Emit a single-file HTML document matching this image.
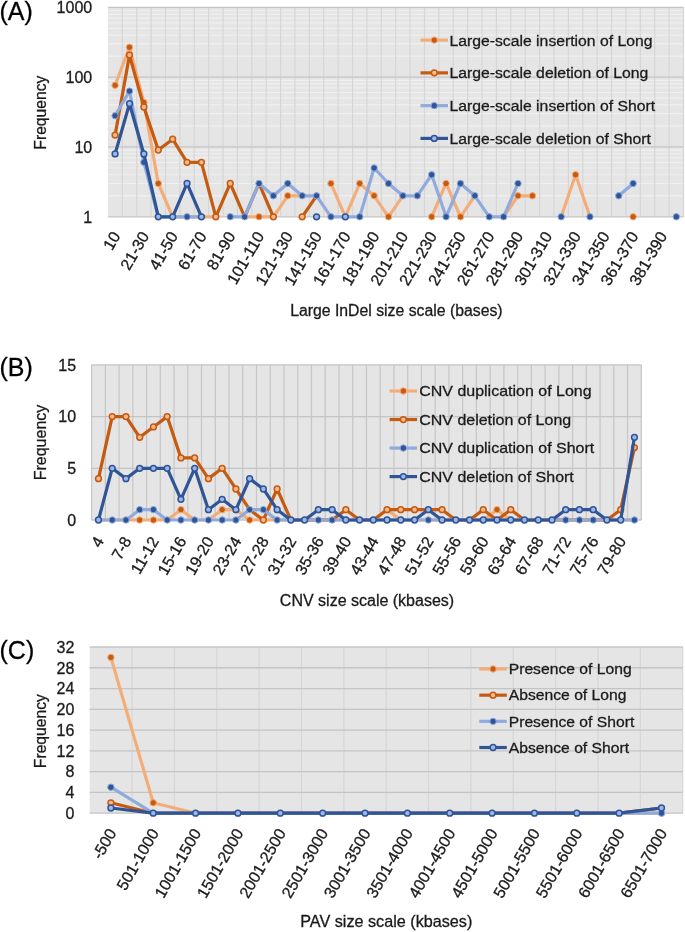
<!DOCTYPE html>
<html><head><meta charset="utf-8"><title>Size distribution charts</title>
<style>html,body{margin:0;padding:0;background:#fff;}body{width:685px;height:932px;overflow:hidden;font-family:"Liberation Sans", sans-serif;}svg{display:block;filter:blur(0.45px);}svg text{stroke:#1a1a1a;stroke-width:0.3px;paint-order:stroke;}</style>
</head><body><svg width="685" height="932" viewBox="0 0 685 932" font-family='"Liberation Sans", sans-serif'><rect x="107.9" y="7.3" width="575.6" height="209.5" fill="#e5e5e5"/><line x1="107.9" y1="195.78" x2="683.5" y2="195.78" stroke="#f0f0f0" stroke-width="1.2"/><line x1="107.9" y1="183.48" x2="683.5" y2="183.48" stroke="#f0f0f0" stroke-width="1.2"/><line x1="107.9" y1="174.76" x2="683.5" y2="174.76" stroke="#f0f0f0" stroke-width="1.2"/><line x1="107.9" y1="167.99" x2="683.5" y2="167.99" stroke="#f0f0f0" stroke-width="1.2"/><line x1="107.9" y1="162.46" x2="683.5" y2="162.46" stroke="#f0f0f0" stroke-width="1.2"/><line x1="107.9" y1="157.78" x2="683.5" y2="157.78" stroke="#f0f0f0" stroke-width="1.2"/><line x1="107.9" y1="153.73" x2="683.5" y2="153.73" stroke="#f0f0f0" stroke-width="1.2"/><line x1="107.9" y1="150.16" x2="683.5" y2="150.16" stroke="#f0f0f0" stroke-width="1.2"/><line x1="107.9" y1="125.94" x2="683.5" y2="125.94" stroke="#f0f0f0" stroke-width="1.2"/><line x1="107.9" y1="113.65" x2="683.5" y2="113.65" stroke="#f0f0f0" stroke-width="1.2"/><line x1="107.9" y1="104.92" x2="683.5" y2="104.92" stroke="#f0f0f0" stroke-width="1.2"/><line x1="107.9" y1="98.16" x2="683.5" y2="98.16" stroke="#f0f0f0" stroke-width="1.2"/><line x1="107.9" y1="92.63" x2="683.5" y2="92.63" stroke="#f0f0f0" stroke-width="1.2"/><line x1="107.9" y1="87.95" x2="683.5" y2="87.95" stroke="#f0f0f0" stroke-width="1.2"/><line x1="107.9" y1="83.9" x2="683.5" y2="83.9" stroke="#f0f0f0" stroke-width="1.2"/><line x1="107.9" y1="80.33" x2="683.5" y2="80.33" stroke="#f0f0f0" stroke-width="1.2"/><line x1="107.9" y1="56.11" x2="683.5" y2="56.11" stroke="#f0f0f0" stroke-width="1.2"/><line x1="107.9" y1="43.81" x2="683.5" y2="43.81" stroke="#f0f0f0" stroke-width="1.2"/><line x1="107.9" y1="35.09" x2="683.5" y2="35.09" stroke="#f0f0f0" stroke-width="1.2"/><line x1="107.9" y1="28.32" x2="683.5" y2="28.32" stroke="#f0f0f0" stroke-width="1.2"/><line x1="107.9" y1="22.79" x2="683.5" y2="22.79" stroke="#f0f0f0" stroke-width="1.2"/><line x1="107.9" y1="18.12" x2="683.5" y2="18.12" stroke="#f0f0f0" stroke-width="1.2"/><line x1="107.9" y1="14.07" x2="683.5" y2="14.07" stroke="#f0f0f0" stroke-width="1.2"/><line x1="107.9" y1="10.5" x2="683.5" y2="10.5" stroke="#f0f0f0" stroke-width="1.2"/><line x1="122.29" y1="7.3" x2="122.29" y2="216.8" stroke="#d6d6d6" stroke-width="1.2"/><line x1="136.68" y1="7.3" x2="136.68" y2="216.8" stroke="#d6d6d6" stroke-width="1.2"/><line x1="151.07" y1="7.3" x2="151.07" y2="216.8" stroke="#d6d6d6" stroke-width="1.2"/><line x1="165.46" y1="7.3" x2="165.46" y2="216.8" stroke="#d6d6d6" stroke-width="1.2"/><line x1="179.85" y1="7.3" x2="179.85" y2="216.8" stroke="#d6d6d6" stroke-width="1.2"/><line x1="194.24" y1="7.3" x2="194.24" y2="216.8" stroke="#d6d6d6" stroke-width="1.2"/><line x1="208.63" y1="7.3" x2="208.63" y2="216.8" stroke="#d6d6d6" stroke-width="1.2"/><line x1="223.02" y1="7.3" x2="223.02" y2="216.8" stroke="#d6d6d6" stroke-width="1.2"/><line x1="237.41" y1="7.3" x2="237.41" y2="216.8" stroke="#d6d6d6" stroke-width="1.2"/><line x1="251.8" y1="7.3" x2="251.8" y2="216.8" stroke="#d6d6d6" stroke-width="1.2"/><line x1="266.19" y1="7.3" x2="266.19" y2="216.8" stroke="#d6d6d6" stroke-width="1.2"/><line x1="280.58" y1="7.3" x2="280.58" y2="216.8" stroke="#d6d6d6" stroke-width="1.2"/><line x1="294.97" y1="7.3" x2="294.97" y2="216.8" stroke="#d6d6d6" stroke-width="1.2"/><line x1="309.36" y1="7.3" x2="309.36" y2="216.8" stroke="#d6d6d6" stroke-width="1.2"/><line x1="323.75" y1="7.3" x2="323.75" y2="216.8" stroke="#d6d6d6" stroke-width="1.2"/><line x1="338.14" y1="7.3" x2="338.14" y2="216.8" stroke="#d6d6d6" stroke-width="1.2"/><line x1="352.53" y1="7.3" x2="352.53" y2="216.8" stroke="#d6d6d6" stroke-width="1.2"/><line x1="366.92" y1="7.3" x2="366.92" y2="216.8" stroke="#d6d6d6" stroke-width="1.2"/><line x1="381.31" y1="7.3" x2="381.31" y2="216.8" stroke="#d6d6d6" stroke-width="1.2"/><line x1="395.7" y1="7.3" x2="395.7" y2="216.8" stroke="#d6d6d6" stroke-width="1.2"/><line x1="410.09" y1="7.3" x2="410.09" y2="216.8" stroke="#d6d6d6" stroke-width="1.2"/><line x1="424.48" y1="7.3" x2="424.48" y2="216.8" stroke="#d6d6d6" stroke-width="1.2"/><line x1="438.87" y1="7.3" x2="438.87" y2="216.8" stroke="#d6d6d6" stroke-width="1.2"/><line x1="453.26" y1="7.3" x2="453.26" y2="216.8" stroke="#d6d6d6" stroke-width="1.2"/><line x1="467.65" y1="7.3" x2="467.65" y2="216.8" stroke="#d6d6d6" stroke-width="1.2"/><line x1="482.04" y1="7.3" x2="482.04" y2="216.8" stroke="#d6d6d6" stroke-width="1.2"/><line x1="496.43" y1="7.3" x2="496.43" y2="216.8" stroke="#d6d6d6" stroke-width="1.2"/><line x1="510.82" y1="7.3" x2="510.82" y2="216.8" stroke="#d6d6d6" stroke-width="1.2"/><line x1="525.21" y1="7.3" x2="525.21" y2="216.8" stroke="#d6d6d6" stroke-width="1.2"/><line x1="539.6" y1="7.3" x2="539.6" y2="216.8" stroke="#d6d6d6" stroke-width="1.2"/><line x1="553.99" y1="7.3" x2="553.99" y2="216.8" stroke="#d6d6d6" stroke-width="1.2"/><line x1="568.38" y1="7.3" x2="568.38" y2="216.8" stroke="#d6d6d6" stroke-width="1.2"/><line x1="582.77" y1="7.3" x2="582.77" y2="216.8" stroke="#d6d6d6" stroke-width="1.2"/><line x1="597.16" y1="7.3" x2="597.16" y2="216.8" stroke="#d6d6d6" stroke-width="1.2"/><line x1="611.55" y1="7.3" x2="611.55" y2="216.8" stroke="#d6d6d6" stroke-width="1.2"/><line x1="625.94" y1="7.3" x2="625.94" y2="216.8" stroke="#d6d6d6" stroke-width="1.2"/><line x1="640.33" y1="7.3" x2="640.33" y2="216.8" stroke="#d6d6d6" stroke-width="1.2"/><line x1="654.72" y1="7.3" x2="654.72" y2="216.8" stroke="#d6d6d6" stroke-width="1.2"/><line x1="669.11" y1="7.3" x2="669.11" y2="216.8" stroke="#d6d6d6" stroke-width="1.2"/><line x1="683.5" y1="7.3" x2="683.5" y2="216.8" stroke="#d6d6d6" stroke-width="1.2"/><line x1="107.9" y1="216.8" x2="683.5" y2="216.8" stroke="#c4c4c4" stroke-width="1.3"/><line x1="107.9" y1="146.97" x2="683.5" y2="146.97" stroke="#c4c4c4" stroke-width="1.3"/><line x1="107.9" y1="77.13" x2="683.5" y2="77.13" stroke="#c4c4c4" stroke-width="1.3"/><line x1="107.9" y1="7.3" x2="683.5" y2="7.3" stroke="#c4c4c4" stroke-width="1.3"/><text x="92.2" y="216.8" text-anchor="end" dy="0.36em" font-size="16" fill="#1a1a1a">1</text><text x="92.2" y="146.97" text-anchor="end" dy="0.36em" font-size="16" fill="#1a1a1a">10</text><text x="92.2" y="77.13" text-anchor="end" dy="0.36em" font-size="16" fill="#1a1a1a">100</text><text x="92.2" y="7.3" text-anchor="end" dy="0.36em" font-size="16" fill="#1a1a1a">1000</text><text transform="translate(40,112.6) rotate(-90)" text-anchor="middle" dy="0.36em" font-size="15.7" fill="#1a1a1a">Frequency</text><text x="-0.5" y="19.6" font-size="25" fill="#000">(A)</text><line x1="420.5" y1="40.1" x2="448" y2="40.1" stroke="#f4ad78" stroke-width="3.2"/><circle cx="434.25" cy="40.1" r="3.2" fill="#c55a11" stroke="#f4ad78" stroke-width="1.0"/><text transform="translate(449.5,45.7) scale(1,0.92)" font-size="15.75" fill="#1a1a1a">Large-scale insertion of Long</text><line x1="420.5" y1="72.87" x2="448" y2="72.87" stroke="#c55a11" stroke-width="3.2"/><circle cx="434.25" cy="72.87" r="2.9" fill="#f7b98c" stroke="#c55a11" stroke-width="1.5"/><text transform="translate(449.5,78.47) scale(1,0.92)" font-size="15.75" fill="#1a1a1a">Large-scale deletion of Long</text><line x1="420.5" y1="105.64" x2="448" y2="105.64" stroke="#8faadc" stroke-width="3.2"/><circle cx="434.25" cy="105.64" r="3.2" fill="#2f5597" stroke="#8faadc" stroke-width="1.0"/><text transform="translate(449.5,111.24) scale(1,0.92)" font-size="15.75" fill="#1a1a1a">Large-scale insertion of Short</text><line x1="420.5" y1="138.41" x2="448" y2="138.41" stroke="#2f5597" stroke-width="3.2"/><circle cx="434.25" cy="138.41" r="2.9" fill="#9db7e6" stroke="#2f5597" stroke-width="1.5"/><text transform="translate(449.5,144.01) scale(1,0.92)" font-size="15.75" fill="#1a1a1a">Large-scale deletion of Short</text><polyline points="115.09,85.3 129.49,47.3 143.88,102.5 158.27,183.48 172.66,216.8 187.05,216.8 201.44,216.8 215.83,216.8" fill="none" stroke="#f4ad78" stroke-width="3.2" stroke-linejoin="round" stroke-linecap="round"/><polyline points="244.61,216.8 259,216.8 273.38,216.8 287.77,195.78 302.17,195.78" fill="none" stroke="#f4ad78" stroke-width="3.2" stroke-linejoin="round" stroke-linecap="round"/><polyline points="330.95,183.48 345.34,216.8 359.73,183.48 374.12,195.78 388.5,216.8 402.89,195.78" fill="none" stroke="#f4ad78" stroke-width="3.2" stroke-linejoin="round" stroke-linecap="round"/><polyline points="431.68,216.8 446.07,183.48 460.46,216.8 474.85,195.78" fill="none" stroke="#f4ad78" stroke-width="3.2" stroke-linejoin="round" stroke-linecap="round"/><polyline points="503.62,216.8 518.01,195.78 532.4,195.78" fill="none" stroke="#f4ad78" stroke-width="3.2" stroke-linejoin="round" stroke-linecap="round"/><polyline points="561.19,216.8 575.58,174.76 589.97,216.8" fill="none" stroke="#f4ad78" stroke-width="3.2" stroke-linejoin="round" stroke-linecap="round"/><circle cx="115.09" cy="85.3" r="3.2" fill="#c55a11" stroke="#f4ad78" stroke-width="1.0"/><circle cx="129.49" cy="47.3" r="3.2" fill="#c55a11" stroke="#f4ad78" stroke-width="1.0"/><circle cx="143.88" cy="102.5" r="3.2" fill="#c55a11" stroke="#f4ad78" stroke-width="1.0"/><circle cx="158.27" cy="183.48" r="3.2" fill="#c55a11" stroke="#f4ad78" stroke-width="1.0"/><circle cx="259" cy="216.8" r="3.2" fill="#c55a11" stroke="#f4ad78" stroke-width="1.0"/><circle cx="287.77" cy="195.78" r="3.2" fill="#c55a11" stroke="#f4ad78" stroke-width="1.0"/><circle cx="330.95" cy="183.48" r="3.2" fill="#c55a11" stroke="#f4ad78" stroke-width="1.0"/><circle cx="359.73" cy="183.48" r="3.2" fill="#c55a11" stroke="#f4ad78" stroke-width="1.0"/><circle cx="374.12" cy="195.78" r="3.2" fill="#c55a11" stroke="#f4ad78" stroke-width="1.0"/><circle cx="388.5" cy="216.8" r="3.2" fill="#c55a11" stroke="#f4ad78" stroke-width="1.0"/><circle cx="431.68" cy="216.8" r="3.2" fill="#c55a11" stroke="#f4ad78" stroke-width="1.0"/><circle cx="446.07" cy="183.48" r="3.2" fill="#c55a11" stroke="#f4ad78" stroke-width="1.0"/><circle cx="460.46" cy="216.8" r="3.2" fill="#c55a11" stroke="#f4ad78" stroke-width="1.0"/><circle cx="518.01" cy="195.78" r="3.2" fill="#c55a11" stroke="#f4ad78" stroke-width="1.0"/><circle cx="532.4" cy="195.78" r="3.2" fill="#c55a11" stroke="#f4ad78" stroke-width="1.0"/><circle cx="575.58" cy="174.76" r="3.2" fill="#c55a11" stroke="#f4ad78" stroke-width="1.0"/><circle cx="633.13" cy="216.8" r="3.2" fill="#c55a11" stroke="#f4ad78" stroke-width="1.0"/><polyline points="115.09,135.1 129.49,55.1 143.88,107 158.27,150 172.66,139.2 187.05,162.3 201.44,162.3 215.83,216.8 230.22,183.48 244.61,216.8 259,183.48 273.38,216.8" fill="none" stroke="#c55a11" stroke-width="3.2" stroke-linejoin="round" stroke-linecap="round"/><polyline points="302.17,216.8 316.56,195.78" fill="none" stroke="#c55a11" stroke-width="3.2" stroke-linejoin="round" stroke-linecap="round"/><circle cx="115.09" cy="135.1" r="2.9" fill="#f7b98c" stroke="#c55a11" stroke-width="1.5"/><circle cx="129.49" cy="55.1" r="2.9" fill="#f7b98c" stroke="#c55a11" stroke-width="1.5"/><circle cx="143.88" cy="107" r="2.9" fill="#f7b98c" stroke="#c55a11" stroke-width="1.5"/><circle cx="158.27" cy="150" r="2.9" fill="#f7b98c" stroke="#c55a11" stroke-width="1.5"/><circle cx="172.66" cy="139.2" r="2.9" fill="#f7b98c" stroke="#c55a11" stroke-width="1.5"/><circle cx="187.05" cy="162.3" r="2.9" fill="#f7b98c" stroke="#c55a11" stroke-width="1.5"/><circle cx="201.44" cy="162.3" r="2.9" fill="#f7b98c" stroke="#c55a11" stroke-width="1.5"/><circle cx="215.83" cy="216.8" r="2.9" fill="#f7b98c" stroke="#c55a11" stroke-width="1.5"/><circle cx="230.22" cy="183.48" r="2.9" fill="#f7b98c" stroke="#c55a11" stroke-width="1.5"/><circle cx="273.38" cy="216.8" r="2.9" fill="#f7b98c" stroke="#c55a11" stroke-width="1.5"/><circle cx="302.17" cy="216.8" r="2.9" fill="#f7b98c" stroke="#c55a11" stroke-width="1.5"/><polyline points="115.09,115.7 129.49,91.1 143.88,162.3 158.27,216.8 172.66,216.8 187.05,216.8 201.44,216.8" fill="none" stroke="#8faadc" stroke-width="3.2" stroke-linejoin="round" stroke-linecap="round"/><polyline points="230.22,216.8 244.61,216.8 259,183.48 273.38,195.78 287.77,183.48 302.17,195.78 316.56,195.78 330.95,216.8 345.34,216.8 359.73,216.8 374.12,167.99 388.5,183.48 402.89,195.78 417.28,195.78 431.68,174.76 446.07,216.8 460.46,183.48 474.85,195.78 489.24,216.8 503.62,216.8 518.01,183.48" fill="none" stroke="#8faadc" stroke-width="3.2" stroke-linejoin="round" stroke-linecap="round"/><polyline points="618.75,195.78 633.13,183.48" fill="none" stroke="#8faadc" stroke-width="3.2" stroke-linejoin="round" stroke-linecap="round"/><circle cx="115.09" cy="115.7" r="3.2" fill="#2f5597" stroke="#8faadc" stroke-width="1.0"/><circle cx="129.49" cy="91.1" r="3.2" fill="#2f5597" stroke="#8faadc" stroke-width="1.0"/><circle cx="143.88" cy="162.3" r="3.2" fill="#2f5597" stroke="#8faadc" stroke-width="1.0"/><circle cx="187.05" cy="216.8" r="3.2" fill="#2f5597" stroke="#8faadc" stroke-width="1.0"/><circle cx="230.22" cy="216.8" r="3.2" fill="#2f5597" stroke="#8faadc" stroke-width="1.0"/><circle cx="244.61" cy="216.8" r="3.2" fill="#2f5597" stroke="#8faadc" stroke-width="1.0"/><circle cx="259" cy="183.48" r="3.2" fill="#2f5597" stroke="#8faadc" stroke-width="1.0"/><circle cx="273.38" cy="195.78" r="3.2" fill="#2f5597" stroke="#8faadc" stroke-width="1.0"/><circle cx="287.77" cy="183.48" r="3.2" fill="#2f5597" stroke="#8faadc" stroke-width="1.0"/><circle cx="302.17" cy="195.78" r="3.2" fill="#2f5597" stroke="#8faadc" stroke-width="1.0"/><circle cx="316.56" cy="195.78" r="3.2" fill="#2f5597" stroke="#8faadc" stroke-width="1.0"/><circle cx="330.95" cy="216.8" r="3.2" fill="#2f5597" stroke="#8faadc" stroke-width="1.0"/><circle cx="359.73" cy="216.8" r="3.2" fill="#2f5597" stroke="#8faadc" stroke-width="1.0"/><circle cx="374.12" cy="167.99" r="3.2" fill="#2f5597" stroke="#8faadc" stroke-width="1.0"/><circle cx="388.5" cy="183.48" r="3.2" fill="#2f5597" stroke="#8faadc" stroke-width="1.0"/><circle cx="402.89" cy="195.78" r="3.2" fill="#2f5597" stroke="#8faadc" stroke-width="1.0"/><circle cx="417.28" cy="195.78" r="3.2" fill="#2f5597" stroke="#8faadc" stroke-width="1.0"/><circle cx="431.68" cy="174.76" r="3.2" fill="#2f5597" stroke="#8faadc" stroke-width="1.0"/><circle cx="446.07" cy="216.8" r="3.2" fill="#2f5597" stroke="#8faadc" stroke-width="1.0"/><circle cx="460.46" cy="183.48" r="3.2" fill="#2f5597" stroke="#8faadc" stroke-width="1.0"/><circle cx="474.85" cy="195.78" r="3.2" fill="#2f5597" stroke="#8faadc" stroke-width="1.0"/><circle cx="489.24" cy="216.8" r="3.2" fill="#2f5597" stroke="#8faadc" stroke-width="1.0"/><circle cx="503.62" cy="216.8" r="3.2" fill="#2f5597" stroke="#8faadc" stroke-width="1.0"/><circle cx="518.01" cy="183.48" r="3.2" fill="#2f5597" stroke="#8faadc" stroke-width="1.0"/><circle cx="561.19" cy="216.8" r="3.2" fill="#2f5597" stroke="#8faadc" stroke-width="1.0"/><circle cx="589.97" cy="216.8" r="3.2" fill="#2f5597" stroke="#8faadc" stroke-width="1.0"/><circle cx="618.75" cy="195.78" r="3.2" fill="#2f5597" stroke="#8faadc" stroke-width="1.0"/><circle cx="633.13" cy="183.48" r="3.2" fill="#2f5597" stroke="#8faadc" stroke-width="1.0"/><circle cx="676.3" cy="216.8" r="3.2" fill="#2f5597" stroke="#8faadc" stroke-width="1.0"/><polyline points="115.09,153.9 129.49,103.7 143.88,153.9 158.27,216.8 172.66,216.8 187.05,183.48 201.44,216.8" fill="none" stroke="#2f5597" stroke-width="3.2" stroke-linejoin="round" stroke-linecap="round"/><circle cx="115.09" cy="153.9" r="2.9" fill="#9db7e6" stroke="#2f5597" stroke-width="1.5"/><circle cx="129.49" cy="103.7" r="2.9" fill="#9db7e6" stroke="#2f5597" stroke-width="1.5"/><circle cx="143.88" cy="153.9" r="2.9" fill="#9db7e6" stroke="#2f5597" stroke-width="1.5"/><circle cx="158.27" cy="216.8" r="2.9" fill="#9db7e6" stroke="#2f5597" stroke-width="1.5"/><circle cx="172.66" cy="216.8" r="2.9" fill="#9db7e6" stroke="#2f5597" stroke-width="1.5"/><circle cx="187.05" cy="183.48" r="2.9" fill="#9db7e6" stroke="#2f5597" stroke-width="1.5"/><circle cx="201.44" cy="216.8" r="2.9" fill="#9db7e6" stroke="#2f5597" stroke-width="1.5"/><circle cx="316.56" cy="216.8" r="2.9" fill="#9db7e6" stroke="#2f5597" stroke-width="1.5"/><circle cx="345.34" cy="216.8" r="2.9" fill="#9db7e6" stroke="#2f5597" stroke-width="1.5"/><text transform="translate(115.89,232.9) rotate(-60)" text-anchor="end" dy="0.36em" font-size="16" fill="#1a1a1a">10</text><text transform="translate(144.68,232.9) rotate(-60)" text-anchor="end" dy="0.36em" font-size="16" fill="#1a1a1a">21-30</text><text transform="translate(173.46,232.9) rotate(-60)" text-anchor="end" dy="0.36em" font-size="16" fill="#1a1a1a">41-50</text><text transform="translate(202.24,232.9) rotate(-60)" text-anchor="end" dy="0.36em" font-size="16" fill="#1a1a1a">61-70</text><text transform="translate(231.02,232.9) rotate(-60)" text-anchor="end" dy="0.36em" font-size="16" fill="#1a1a1a">81-90</text><text transform="translate(259.8,232.9) rotate(-60)" text-anchor="end" dy="0.36em" font-size="16" fill="#1a1a1a">101-110</text><text transform="translate(288.57,232.9) rotate(-60)" text-anchor="end" dy="0.36em" font-size="16" fill="#1a1a1a">121-130</text><text transform="translate(317.36,232.9) rotate(-60)" text-anchor="end" dy="0.36em" font-size="16" fill="#1a1a1a">141-150</text><text transform="translate(346.14,232.9) rotate(-60)" text-anchor="end" dy="0.36em" font-size="16" fill="#1a1a1a">161-170</text><text transform="translate(374.92,232.9) rotate(-60)" text-anchor="end" dy="0.36em" font-size="16" fill="#1a1a1a">181-190</text><text transform="translate(403.69,232.9) rotate(-60)" text-anchor="end" dy="0.36em" font-size="16" fill="#1a1a1a">201-210</text><text transform="translate(432.48,232.9) rotate(-60)" text-anchor="end" dy="0.36em" font-size="16" fill="#1a1a1a">221-230</text><text transform="translate(461.26,232.9) rotate(-60)" text-anchor="end" dy="0.36em" font-size="16" fill="#1a1a1a">241-250</text><text transform="translate(490.04,232.9) rotate(-60)" text-anchor="end" dy="0.36em" font-size="16" fill="#1a1a1a">261-270</text><text transform="translate(518.81,232.9) rotate(-60)" text-anchor="end" dy="0.36em" font-size="16" fill="#1a1a1a">281-290</text><text transform="translate(547.6,232.9) rotate(-60)" text-anchor="end" dy="0.36em" font-size="16" fill="#1a1a1a">301-310</text><text transform="translate(576.38,232.9) rotate(-60)" text-anchor="end" dy="0.36em" font-size="16" fill="#1a1a1a">321-330</text><text transform="translate(605.15,232.9) rotate(-60)" text-anchor="end" dy="0.36em" font-size="16" fill="#1a1a1a">341-350</text><text transform="translate(633.93,232.9) rotate(-60)" text-anchor="end" dy="0.36em" font-size="16" fill="#1a1a1a">361-370</text><text transform="translate(662.71,232.9) rotate(-60)" text-anchor="end" dy="0.36em" font-size="16" fill="#1a1a1a">381-390</text><text x="396.4" y="310.2" text-anchor="middle" dy="0.36em" font-size="15.8" fill="#1a1a1a">Large InDel size scale (bases)</text><rect x="91.6" y="364.9" width="549.6999999999999" height="155.10000000000002" fill="#e5e5e5"/><line x1="91.6" y1="364.9" x2="91.6" y2="520.0" stroke="#c8c8c8" stroke-width="1.3"/><line x1="105.34" y1="364.9" x2="105.34" y2="520.0" stroke="#c8c8c8" stroke-width="1.3"/><line x1="119.08" y1="364.9" x2="119.08" y2="520.0" stroke="#c8c8c8" stroke-width="1.3"/><line x1="132.83" y1="364.9" x2="132.83" y2="520.0" stroke="#c8c8c8" stroke-width="1.3"/><line x1="146.57" y1="364.9" x2="146.57" y2="520.0" stroke="#c8c8c8" stroke-width="1.3"/><line x1="160.31" y1="364.9" x2="160.31" y2="520.0" stroke="#c8c8c8" stroke-width="1.3"/><line x1="174.05" y1="364.9" x2="174.05" y2="520.0" stroke="#c8c8c8" stroke-width="1.3"/><line x1="187.8" y1="364.9" x2="187.8" y2="520.0" stroke="#c8c8c8" stroke-width="1.3"/><line x1="201.54" y1="364.9" x2="201.54" y2="520.0" stroke="#c8c8c8" stroke-width="1.3"/><line x1="215.28" y1="364.9" x2="215.28" y2="520.0" stroke="#c8c8c8" stroke-width="1.3"/><line x1="229.02" y1="364.9" x2="229.02" y2="520.0" stroke="#c8c8c8" stroke-width="1.3"/><line x1="242.77" y1="364.9" x2="242.77" y2="520.0" stroke="#c8c8c8" stroke-width="1.3"/><line x1="256.51" y1="364.9" x2="256.51" y2="520.0" stroke="#c8c8c8" stroke-width="1.3"/><line x1="270.25" y1="364.9" x2="270.25" y2="520.0" stroke="#c8c8c8" stroke-width="1.3"/><line x1="284" y1="364.9" x2="284" y2="520.0" stroke="#c8c8c8" stroke-width="1.3"/><line x1="297.74" y1="364.9" x2="297.74" y2="520.0" stroke="#c8c8c8" stroke-width="1.3"/><line x1="311.48" y1="364.9" x2="311.48" y2="520.0" stroke="#c8c8c8" stroke-width="1.3"/><line x1="325.22" y1="364.9" x2="325.22" y2="520.0" stroke="#c8c8c8" stroke-width="1.3"/><line x1="338.96" y1="364.9" x2="338.96" y2="520.0" stroke="#c8c8c8" stroke-width="1.3"/><line x1="352.71" y1="364.9" x2="352.71" y2="520.0" stroke="#c8c8c8" stroke-width="1.3"/><line x1="366.45" y1="364.9" x2="366.45" y2="520.0" stroke="#c8c8c8" stroke-width="1.3"/><line x1="380.19" y1="364.9" x2="380.19" y2="520.0" stroke="#c8c8c8" stroke-width="1.3"/><line x1="393.93" y1="364.9" x2="393.93" y2="520.0" stroke="#c8c8c8" stroke-width="1.3"/><line x1="407.68" y1="364.9" x2="407.68" y2="520.0" stroke="#c8c8c8" stroke-width="1.3"/><line x1="421.42" y1="364.9" x2="421.42" y2="520.0" stroke="#c8c8c8" stroke-width="1.3"/><line x1="435.16" y1="364.9" x2="435.16" y2="520.0" stroke="#c8c8c8" stroke-width="1.3"/><line x1="448.9" y1="364.9" x2="448.9" y2="520.0" stroke="#c8c8c8" stroke-width="1.3"/><line x1="462.65" y1="364.9" x2="462.65" y2="520.0" stroke="#c8c8c8" stroke-width="1.3"/><line x1="476.39" y1="364.9" x2="476.39" y2="520.0" stroke="#c8c8c8" stroke-width="1.3"/><line x1="490.13" y1="364.9" x2="490.13" y2="520.0" stroke="#c8c8c8" stroke-width="1.3"/><line x1="503.87" y1="364.9" x2="503.87" y2="520.0" stroke="#c8c8c8" stroke-width="1.3"/><line x1="517.62" y1="364.9" x2="517.62" y2="520.0" stroke="#c8c8c8" stroke-width="1.3"/><line x1="531.36" y1="364.9" x2="531.36" y2="520.0" stroke="#c8c8c8" stroke-width="1.3"/><line x1="545.1" y1="364.9" x2="545.1" y2="520.0" stroke="#c8c8c8" stroke-width="1.3"/><line x1="558.84" y1="364.9" x2="558.84" y2="520.0" stroke="#c8c8c8" stroke-width="1.3"/><line x1="572.59" y1="364.9" x2="572.59" y2="520.0" stroke="#c8c8c8" stroke-width="1.3"/><line x1="586.33" y1="364.9" x2="586.33" y2="520.0" stroke="#c8c8c8" stroke-width="1.3"/><line x1="600.07" y1="364.9" x2="600.07" y2="520.0" stroke="#c8c8c8" stroke-width="1.3"/><line x1="613.81" y1="364.9" x2="613.81" y2="520.0" stroke="#c8c8c8" stroke-width="1.3"/><line x1="627.56" y1="364.9" x2="627.56" y2="520.0" stroke="#c8c8c8" stroke-width="1.3"/><line x1="641.3" y1="364.9" x2="641.3" y2="520.0" stroke="#c8c8c8" stroke-width="1.3"/><line x1="91.6" y1="520" x2="641.3" y2="520" stroke="#c4c4c4" stroke-width="1.3"/><text x="76.1" y="520" text-anchor="end" dy="0.36em" font-size="16" fill="#1a1a1a">0</text><line x1="91.6" y1="468.3" x2="641.3" y2="468.3" stroke="#c4c4c4" stroke-width="1.3"/><text x="76.1" y="468.3" text-anchor="end" dy="0.36em" font-size="16" fill="#1a1a1a">5</text><line x1="91.6" y1="416.6" x2="641.3" y2="416.6" stroke="#c4c4c4" stroke-width="1.3"/><text x="76.1" y="416.6" text-anchor="end" dy="0.36em" font-size="16" fill="#1a1a1a">10</text><line x1="91.6" y1="364.9" x2="641.3" y2="364.9" stroke="#c4c4c4" stroke-width="1.3"/><text x="76.1" y="364.9" text-anchor="end" dy="0.36em" font-size="16" fill="#1a1a1a">15</text><text transform="translate(40,442.5) rotate(-90)" text-anchor="middle" dy="0.36em" font-size="16" fill="#1a1a1a">Frequency</text><text x="-0.5" y="375.6" font-size="25" fill="#000">(B)</text><line x1="389.6" y1="391" x2="417.1" y2="391" stroke="#f4ad78" stroke-width="3.2"/><circle cx="403.35" cy="391" r="3.2" fill="#c55a11" stroke="#f4ad78" stroke-width="1.0"/><text transform="translate(419.2,396.3) scale(1,0.92)" font-size="16" fill="#1a1a1a">CNV duplication of Long</text><line x1="389.6" y1="419.53" x2="417.1" y2="419.53" stroke="#c55a11" stroke-width="3.2"/><circle cx="403.35" cy="419.53" r="2.9" fill="#f7b98c" stroke="#c55a11" stroke-width="1.5"/><text transform="translate(419.2,424.83) scale(1,0.92)" font-size="16" fill="#1a1a1a">CNV deletion of Long</text><line x1="389.6" y1="448.06" x2="417.1" y2="448.06" stroke="#8faadc" stroke-width="3.2"/><circle cx="403.35" cy="448.06" r="3.2" fill="#2f5597" stroke="#8faadc" stroke-width="1.0"/><text transform="translate(419.2,453.36) scale(1,0.92)" font-size="16" fill="#1a1a1a">CNV duplication of Short</text><line x1="389.6" y1="476.59" x2="417.1" y2="476.59" stroke="#2f5597" stroke-width="3.2"/><circle cx="403.35" cy="476.59" r="2.9" fill="#9db7e6" stroke="#2f5597" stroke-width="1.5"/><text transform="translate(419.2,481.89) scale(1,0.92)" font-size="16" fill="#1a1a1a">CNV deletion of Short</text><polyline points="98.47,520 112.21,520 125.96,520 139.7,520 153.44,520 167.18,520 180.93,509.66 194.67,520 208.41,520 222.15,509.66 235.9,509.66 249.64,520 263.38,520 277.12,520 290.87,520 304.61,520 318.35,520 332.09,520 345.84,520 359.58,520 373.32,520 387.06,509.66 400.81,520 414.55,520 428.29,520 442.03,520 455.78,520 469.52,520 483.26,520 497,509.66 510.75,520 524.49,520 538.23,520 551.97,520 565.72,520 579.46,520 593.2,520 606.94,520 620.69,520 634.43,520" fill="none" stroke="#f4ad78" stroke-width="3.2" stroke-linejoin="round" stroke-linecap="round"/><circle cx="139.7" cy="520" r="3.2" fill="#c55a11" stroke="#f4ad78" stroke-width="1.0"/><circle cx="153.44" cy="520" r="3.2" fill="#c55a11" stroke="#f4ad78" stroke-width="1.0"/><circle cx="180.93" cy="509.66" r="3.2" fill="#c55a11" stroke="#f4ad78" stroke-width="1.0"/><circle cx="222.15" cy="509.66" r="3.2" fill="#c55a11" stroke="#f4ad78" stroke-width="1.0"/><circle cx="249.64" cy="520" r="3.2" fill="#c55a11" stroke="#f4ad78" stroke-width="1.0"/><circle cx="497" cy="509.66" r="3.2" fill="#c55a11" stroke="#f4ad78" stroke-width="1.0"/><polyline points="98.47,478.64 112.21,416.6 125.96,416.6 139.7,437.28 153.44,426.94 167.18,416.6 180.93,457.96 194.67,457.96 208.41,478.64 222.15,468.3 235.9,488.98 249.64,509.66 263.38,520 277.12,488.98 290.87,520 304.61,520 318.35,520 332.09,520 345.84,509.66 359.58,520 373.32,520 387.06,509.66 400.81,509.66 414.55,509.66 428.29,509.66 442.03,509.66 455.78,520 469.52,520 483.26,509.66 497,520 510.75,509.66 524.49,520 538.23,520 551.97,520 565.72,520 579.46,520 593.2,520 606.94,520 620.69,509.66 634.43,447.62" fill="none" stroke="#c55a11" stroke-width="3.2" stroke-linejoin="round" stroke-linecap="round"/><circle cx="98.47" cy="478.64" r="2.9" fill="#f7b98c" stroke="#c55a11" stroke-width="1.5"/><circle cx="112.21" cy="416.6" r="2.9" fill="#f7b98c" stroke="#c55a11" stroke-width="1.5"/><circle cx="125.96" cy="416.6" r="2.9" fill="#f7b98c" stroke="#c55a11" stroke-width="1.5"/><circle cx="139.7" cy="437.28" r="2.9" fill="#f7b98c" stroke="#c55a11" stroke-width="1.5"/><circle cx="153.44" cy="426.94" r="2.9" fill="#f7b98c" stroke="#c55a11" stroke-width="1.5"/><circle cx="167.18" cy="416.6" r="2.9" fill="#f7b98c" stroke="#c55a11" stroke-width="1.5"/><circle cx="180.93" cy="457.96" r="2.9" fill="#f7b98c" stroke="#c55a11" stroke-width="1.5"/><circle cx="194.67" cy="457.96" r="2.9" fill="#f7b98c" stroke="#c55a11" stroke-width="1.5"/><circle cx="208.41" cy="478.64" r="2.9" fill="#f7b98c" stroke="#c55a11" stroke-width="1.5"/><circle cx="222.15" cy="468.3" r="2.9" fill="#f7b98c" stroke="#c55a11" stroke-width="1.5"/><circle cx="235.9" cy="488.98" r="2.9" fill="#f7b98c" stroke="#c55a11" stroke-width="1.5"/><circle cx="263.38" cy="520" r="2.9" fill="#f7b98c" stroke="#c55a11" stroke-width="1.5"/><circle cx="277.12" cy="488.98" r="2.9" fill="#f7b98c" stroke="#c55a11" stroke-width="1.5"/><circle cx="345.84" cy="509.66" r="2.9" fill="#f7b98c" stroke="#c55a11" stroke-width="1.5"/><circle cx="387.06" cy="509.66" r="2.9" fill="#f7b98c" stroke="#c55a11" stroke-width="1.5"/><circle cx="400.81" cy="509.66" r="2.9" fill="#f7b98c" stroke="#c55a11" stroke-width="1.5"/><circle cx="414.55" cy="509.66" r="2.9" fill="#f7b98c" stroke="#c55a11" stroke-width="1.5"/><circle cx="442.03" cy="509.66" r="2.9" fill="#f7b98c" stroke="#c55a11" stroke-width="1.5"/><circle cx="483.26" cy="509.66" r="2.9" fill="#f7b98c" stroke="#c55a11" stroke-width="1.5"/><circle cx="510.75" cy="509.66" r="2.9" fill="#f7b98c" stroke="#c55a11" stroke-width="1.5"/><circle cx="620.69" cy="509.66" r="2.9" fill="#f7b98c" stroke="#c55a11" stroke-width="1.5"/><circle cx="634.43" cy="447.62" r="2.9" fill="#f7b98c" stroke="#c55a11" stroke-width="1.5"/><polyline points="98.47,520 112.21,520 125.96,520 139.7,509.66 153.44,509.66 167.18,520 180.93,520 194.67,520 208.41,520 222.15,520 235.9,520 249.64,509.66 263.38,509.66 277.12,520 290.87,520 304.61,520 318.35,520 332.09,520 345.84,520 359.58,520 373.32,520 387.06,520 400.81,520 414.55,520 428.29,520 442.03,520 455.78,520 469.52,520 483.26,520 497,520 510.75,520 524.49,520 538.23,520 551.97,520 565.72,520 579.46,520 593.2,520 606.94,520 620.69,520 634.43,520" fill="none" stroke="#8faadc" stroke-width="3.2" stroke-linejoin="round" stroke-linecap="round"/><circle cx="112.21" cy="520" r="3.2" fill="#2f5597" stroke="#8faadc" stroke-width="1.0"/><circle cx="125.96" cy="520" r="3.2" fill="#2f5597" stroke="#8faadc" stroke-width="1.0"/><circle cx="139.7" cy="509.66" r="3.2" fill="#2f5597" stroke="#8faadc" stroke-width="1.0"/><circle cx="153.44" cy="509.66" r="3.2" fill="#2f5597" stroke="#8faadc" stroke-width="1.0"/><circle cx="167.18" cy="520" r="3.2" fill="#2f5597" stroke="#8faadc" stroke-width="1.0"/><circle cx="180.93" cy="520" r="3.2" fill="#2f5597" stroke="#8faadc" stroke-width="1.0"/><circle cx="194.67" cy="520" r="3.2" fill="#2f5597" stroke="#8faadc" stroke-width="1.0"/><circle cx="208.41" cy="520" r="3.2" fill="#2f5597" stroke="#8faadc" stroke-width="1.0"/><circle cx="222.15" cy="520" r="3.2" fill="#2f5597" stroke="#8faadc" stroke-width="1.0"/><circle cx="235.9" cy="520" r="3.2" fill="#2f5597" stroke="#8faadc" stroke-width="1.0"/><circle cx="249.64" cy="509.66" r="3.2" fill="#2f5597" stroke="#8faadc" stroke-width="1.0"/><circle cx="263.38" cy="509.66" r="3.2" fill="#2f5597" stroke="#8faadc" stroke-width="1.0"/><circle cx="277.12" cy="520" r="3.2" fill="#2f5597" stroke="#8faadc" stroke-width="1.0"/><circle cx="318.35" cy="520" r="3.2" fill="#2f5597" stroke="#8faadc" stroke-width="1.0"/><circle cx="332.09" cy="520" r="3.2" fill="#2f5597" stroke="#8faadc" stroke-width="1.0"/><circle cx="428.29" cy="520" r="3.2" fill="#2f5597" stroke="#8faadc" stroke-width="1.0"/><circle cx="565.72" cy="520" r="3.2" fill="#2f5597" stroke="#8faadc" stroke-width="1.0"/><circle cx="579.46" cy="520" r="3.2" fill="#2f5597" stroke="#8faadc" stroke-width="1.0"/><circle cx="593.2" cy="520" r="3.2" fill="#2f5597" stroke="#8faadc" stroke-width="1.0"/><circle cx="634.43" cy="520" r="3.2" fill="#2f5597" stroke="#8faadc" stroke-width="1.0"/><polyline points="98.47,520 112.21,468.3 125.96,478.64 139.7,468.3 153.44,468.3 167.18,468.3 180.93,499.32 194.67,468.3 208.41,509.66 222.15,499.32 235.9,509.66 249.64,478.64 263.38,488.98 277.12,509.66 290.87,520 304.61,520 318.35,509.66 332.09,509.66 345.84,520 359.58,520 373.32,520 387.06,520 400.81,520 414.55,520 428.29,509.66 442.03,520 455.78,520 469.52,520 483.26,520 497,520 510.75,520 524.49,520 538.23,520 551.97,520 565.72,509.66 579.46,509.66 593.2,509.66 606.94,520 620.69,520 634.43,437.28" fill="none" stroke="#2f5597" stroke-width="3.2" stroke-linejoin="round" stroke-linecap="round"/><circle cx="98.47" cy="520" r="2.9" fill="#9db7e6" stroke="#2f5597" stroke-width="1.5"/><circle cx="112.21" cy="468.3" r="2.9" fill="#9db7e6" stroke="#2f5597" stroke-width="1.5"/><circle cx="125.96" cy="478.64" r="2.9" fill="#9db7e6" stroke="#2f5597" stroke-width="1.5"/><circle cx="139.7" cy="468.3" r="2.9" fill="#9db7e6" stroke="#2f5597" stroke-width="1.5"/><circle cx="153.44" cy="468.3" r="2.9" fill="#9db7e6" stroke="#2f5597" stroke-width="1.5"/><circle cx="167.18" cy="468.3" r="2.9" fill="#9db7e6" stroke="#2f5597" stroke-width="1.5"/><circle cx="180.93" cy="499.32" r="2.9" fill="#9db7e6" stroke="#2f5597" stroke-width="1.5"/><circle cx="194.67" cy="468.3" r="2.9" fill="#9db7e6" stroke="#2f5597" stroke-width="1.5"/><circle cx="208.41" cy="509.66" r="2.9" fill="#9db7e6" stroke="#2f5597" stroke-width="1.5"/><circle cx="222.15" cy="499.32" r="2.9" fill="#9db7e6" stroke="#2f5597" stroke-width="1.5"/><circle cx="235.9" cy="509.66" r="2.9" fill="#9db7e6" stroke="#2f5597" stroke-width="1.5"/><circle cx="249.64" cy="478.64" r="2.9" fill="#9db7e6" stroke="#2f5597" stroke-width="1.5"/><circle cx="263.38" cy="488.98" r="2.9" fill="#9db7e6" stroke="#2f5597" stroke-width="1.5"/><circle cx="277.12" cy="509.66" r="2.9" fill="#9db7e6" stroke="#2f5597" stroke-width="1.5"/><circle cx="290.87" cy="520" r="2.9" fill="#9db7e6" stroke="#2f5597" stroke-width="1.5"/><circle cx="304.61" cy="520" r="2.9" fill="#9db7e6" stroke="#2f5597" stroke-width="1.5"/><circle cx="318.35" cy="509.66" r="2.9" fill="#9db7e6" stroke="#2f5597" stroke-width="1.5"/><circle cx="332.09" cy="509.66" r="2.9" fill="#9db7e6" stroke="#2f5597" stroke-width="1.5"/><circle cx="345.84" cy="520" r="2.9" fill="#9db7e6" stroke="#2f5597" stroke-width="1.5"/><circle cx="359.58" cy="520" r="2.9" fill="#9db7e6" stroke="#2f5597" stroke-width="1.5"/><circle cx="373.32" cy="520" r="2.9" fill="#9db7e6" stroke="#2f5597" stroke-width="1.5"/><circle cx="387.06" cy="520" r="2.9" fill="#9db7e6" stroke="#2f5597" stroke-width="1.5"/><circle cx="400.81" cy="520" r="2.9" fill="#9db7e6" stroke="#2f5597" stroke-width="1.5"/><circle cx="414.55" cy="520" r="2.9" fill="#9db7e6" stroke="#2f5597" stroke-width="1.5"/><circle cx="428.29" cy="509.66" r="2.9" fill="#9db7e6" stroke="#2f5597" stroke-width="1.5"/><circle cx="442.03" cy="520" r="2.9" fill="#9db7e6" stroke="#2f5597" stroke-width="1.5"/><circle cx="455.78" cy="520" r="2.9" fill="#9db7e6" stroke="#2f5597" stroke-width="1.5"/><circle cx="469.52" cy="520" r="2.9" fill="#9db7e6" stroke="#2f5597" stroke-width="1.5"/><circle cx="483.26" cy="520" r="2.9" fill="#9db7e6" stroke="#2f5597" stroke-width="1.5"/><circle cx="497" cy="520" r="2.9" fill="#9db7e6" stroke="#2f5597" stroke-width="1.5"/><circle cx="510.75" cy="520" r="2.9" fill="#9db7e6" stroke="#2f5597" stroke-width="1.5"/><circle cx="524.49" cy="520" r="2.9" fill="#9db7e6" stroke="#2f5597" stroke-width="1.5"/><circle cx="538.23" cy="520" r="2.9" fill="#9db7e6" stroke="#2f5597" stroke-width="1.5"/><circle cx="551.97" cy="520" r="2.9" fill="#9db7e6" stroke="#2f5597" stroke-width="1.5"/><circle cx="565.72" cy="509.66" r="2.9" fill="#9db7e6" stroke="#2f5597" stroke-width="1.5"/><circle cx="579.46" cy="509.66" r="2.9" fill="#9db7e6" stroke="#2f5597" stroke-width="1.5"/><circle cx="593.2" cy="509.66" r="2.9" fill="#9db7e6" stroke="#2f5597" stroke-width="1.5"/><circle cx="606.94" cy="520" r="2.9" fill="#9db7e6" stroke="#2f5597" stroke-width="1.5"/><circle cx="620.69" cy="520" r="2.9" fill="#9db7e6" stroke="#2f5597" stroke-width="1.5"/><circle cx="634.43" cy="437.28" r="2.9" fill="#9db7e6" stroke="#2f5597" stroke-width="1.5"/><text transform="translate(99.47,538) rotate(-60)" text-anchor="end" dy="0.36em" font-size="16" fill="#1a1a1a">4</text><text transform="translate(126.96,538) rotate(-60)" text-anchor="end" dy="0.36em" font-size="16" fill="#1a1a1a">7-8</text><text transform="translate(154.44,538) rotate(-60)" text-anchor="end" dy="0.36em" font-size="16" fill="#1a1a1a">11-12</text><text transform="translate(181.93,538) rotate(-60)" text-anchor="end" dy="0.36em" font-size="16" fill="#1a1a1a">15-16</text><text transform="translate(209.41,538) rotate(-60)" text-anchor="end" dy="0.36em" font-size="16" fill="#1a1a1a">19-20</text><text transform="translate(236.9,538) rotate(-60)" text-anchor="end" dy="0.36em" font-size="16" fill="#1a1a1a">23-24</text><text transform="translate(264.38,538) rotate(-60)" text-anchor="end" dy="0.36em" font-size="16" fill="#1a1a1a">27-28</text><text transform="translate(291.87,538) rotate(-60)" text-anchor="end" dy="0.36em" font-size="16" fill="#1a1a1a">31-32</text><text transform="translate(319.35,538) rotate(-60)" text-anchor="end" dy="0.36em" font-size="16" fill="#1a1a1a">35-36</text><text transform="translate(346.84,538) rotate(-60)" text-anchor="end" dy="0.36em" font-size="16" fill="#1a1a1a">39-40</text><text transform="translate(374.32,538) rotate(-60)" text-anchor="end" dy="0.36em" font-size="16" fill="#1a1a1a">43-44</text><text transform="translate(401.81,538) rotate(-60)" text-anchor="end" dy="0.36em" font-size="16" fill="#1a1a1a">47-48</text><text transform="translate(429.29,538) rotate(-60)" text-anchor="end" dy="0.36em" font-size="16" fill="#1a1a1a">51-52</text><text transform="translate(456.78,538) rotate(-60)" text-anchor="end" dy="0.36em" font-size="16" fill="#1a1a1a">55-56</text><text transform="translate(484.26,538) rotate(-60)" text-anchor="end" dy="0.36em" font-size="16" fill="#1a1a1a">59-60</text><text transform="translate(511.75,538) rotate(-60)" text-anchor="end" dy="0.36em" font-size="16" fill="#1a1a1a">63-64</text><text transform="translate(539.23,538) rotate(-60)" text-anchor="end" dy="0.36em" font-size="16" fill="#1a1a1a">67-68</text><text transform="translate(566.72,538) rotate(-60)" text-anchor="end" dy="0.36em" font-size="16" fill="#1a1a1a">71-72</text><text transform="translate(594.2,538) rotate(-60)" text-anchor="end" dy="0.36em" font-size="16" fill="#1a1a1a">75-76</text><text transform="translate(621.69,538) rotate(-60)" text-anchor="end" dy="0.36em" font-size="16" fill="#1a1a1a">79-80</text><text x="367" y="600.2" text-anchor="middle" dy="0.36em" font-size="16" fill="#1a1a1a">CNV size scale (kbases)</text><rect x="89.7" y="647.0" width="593.0" height="166.20000000000005" fill="#e5e5e5"/><line x1="132.06" y1="647.0" x2="132.06" y2="813.2" stroke="#d6d6d6" stroke-width="1.2"/><line x1="174.41" y1="647.0" x2="174.41" y2="813.2" stroke="#d6d6d6" stroke-width="1.2"/><line x1="216.77" y1="647.0" x2="216.77" y2="813.2" stroke="#d6d6d6" stroke-width="1.2"/><line x1="259.13" y1="647.0" x2="259.13" y2="813.2" stroke="#d6d6d6" stroke-width="1.2"/><line x1="301.49" y1="647.0" x2="301.49" y2="813.2" stroke="#d6d6d6" stroke-width="1.2"/><line x1="343.84" y1="647.0" x2="343.84" y2="813.2" stroke="#d6d6d6" stroke-width="1.2"/><line x1="386.2" y1="647.0" x2="386.2" y2="813.2" stroke="#d6d6d6" stroke-width="1.2"/><line x1="428.56" y1="647.0" x2="428.56" y2="813.2" stroke="#d6d6d6" stroke-width="1.2"/><line x1="470.91" y1="647.0" x2="470.91" y2="813.2" stroke="#d6d6d6" stroke-width="1.2"/><line x1="513.27" y1="647.0" x2="513.27" y2="813.2" stroke="#d6d6d6" stroke-width="1.2"/><line x1="555.63" y1="647.0" x2="555.63" y2="813.2" stroke="#d6d6d6" stroke-width="1.2"/><line x1="597.99" y1="647.0" x2="597.99" y2="813.2" stroke="#d6d6d6" stroke-width="1.2"/><line x1="640.34" y1="647.0" x2="640.34" y2="813.2" stroke="#d6d6d6" stroke-width="1.2"/><line x1="682.7" y1="647.0" x2="682.7" y2="813.2" stroke="#d6d6d6" stroke-width="1.2"/><line x1="89.7" y1="813.2" x2="682.7" y2="813.2" stroke="#c4c4c4" stroke-width="1.3"/><text x="74.3" y="813.2" text-anchor="end" dy="0.36em" font-size="16" fill="#1a1a1a">0</text><line x1="89.7" y1="792.43" x2="682.7" y2="792.43" stroke="#c4c4c4" stroke-width="1.3"/><text x="74.3" y="792.43" text-anchor="end" dy="0.36em" font-size="16" fill="#1a1a1a">4</text><line x1="89.7" y1="771.65" x2="682.7" y2="771.65" stroke="#c4c4c4" stroke-width="1.3"/><text x="74.3" y="771.65" text-anchor="end" dy="0.36em" font-size="16" fill="#1a1a1a">8</text><line x1="89.7" y1="750.88" x2="682.7" y2="750.88" stroke="#c4c4c4" stroke-width="1.3"/><text x="74.3" y="750.88" text-anchor="end" dy="0.36em" font-size="16" fill="#1a1a1a">12</text><line x1="89.7" y1="730.1" x2="682.7" y2="730.1" stroke="#c4c4c4" stroke-width="1.3"/><text x="74.3" y="730.1" text-anchor="end" dy="0.36em" font-size="16" fill="#1a1a1a">16</text><line x1="89.7" y1="709.33" x2="682.7" y2="709.33" stroke="#c4c4c4" stroke-width="1.3"/><text x="74.3" y="709.33" text-anchor="end" dy="0.36em" font-size="16" fill="#1a1a1a">20</text><line x1="89.7" y1="688.55" x2="682.7" y2="688.55" stroke="#c4c4c4" stroke-width="1.3"/><text x="74.3" y="688.55" text-anchor="end" dy="0.36em" font-size="16" fill="#1a1a1a">24</text><line x1="89.7" y1="667.77" x2="682.7" y2="667.77" stroke="#c4c4c4" stroke-width="1.3"/><text x="74.3" y="667.77" text-anchor="end" dy="0.36em" font-size="16" fill="#1a1a1a">28</text><line x1="89.7" y1="647" x2="682.7" y2="647" stroke="#c4c4c4" stroke-width="1.3"/><text x="74.3" y="647" text-anchor="end" dy="0.36em" font-size="16" fill="#1a1a1a">32</text><text transform="translate(40,731.1) rotate(-90)" text-anchor="middle" dy="0.36em" font-size="15.7" fill="#1a1a1a">Frequency</text><text x="-0.5" y="658.5" font-size="25" fill="#000">(C)</text><line x1="479.3" y1="669" x2="506.8" y2="669" stroke="#f4ad78" stroke-width="3.2"/><circle cx="493.05" cy="669" r="3.2" fill="#c55a11" stroke="#f4ad78" stroke-width="1.0"/><text transform="translate(508.7,674.3) scale(1,0.92)" font-size="15.7" fill="#1a1a1a">Presence of Long</text><line x1="479.3" y1="695.17" x2="506.8" y2="695.17" stroke="#c55a11" stroke-width="3.2"/><circle cx="493.05" cy="695.17" r="2.9" fill="#f7b98c" stroke="#c55a11" stroke-width="1.5"/><text transform="translate(508.7,700.47) scale(1,0.92)" font-size="15.7" fill="#1a1a1a">Absence of Long</text><line x1="479.3" y1="721.34" x2="506.8" y2="721.34" stroke="#8faadc" stroke-width="3.2"/><circle cx="493.05" cy="721.34" r="3.2" fill="#2f5597" stroke="#8faadc" stroke-width="1.0"/><text transform="translate(508.7,726.64) scale(1,0.92)" font-size="15.7" fill="#1a1a1a">Presence of Short</text><line x1="479.3" y1="747.51" x2="506.8" y2="747.51" stroke="#2f5597" stroke-width="3.2"/><circle cx="493.05" cy="747.51" r="2.9" fill="#9db7e6" stroke="#2f5597" stroke-width="1.5"/><text transform="translate(508.7,752.81) scale(1,0.92)" font-size="15.7" fill="#1a1a1a">Absence of Short</text><polyline points="110.88,657.39 153.24,802.81 195.59,813.2 237.95,813.2 280.31,813.2 322.66,813.2 365.02,813.2 407.38,813.2 449.74,813.2 492.09,813.2 534.45,813.2 576.81,813.2 619.16,813.2 661.52,813.2" fill="none" stroke="#f4ad78" stroke-width="3.2" stroke-linejoin="round" stroke-linecap="round"/><circle cx="110.88" cy="657.39" r="3.2" fill="#c55a11" stroke="#f4ad78" stroke-width="1.0"/><circle cx="153.24" cy="802.81" r="3.2" fill="#c55a11" stroke="#f4ad78" stroke-width="1.0"/><polyline points="110.88,802.81 153.24,813.2 195.59,813.2 237.95,813.2 280.31,813.2 322.66,813.2 365.02,813.2 407.38,813.2 449.74,813.2 492.09,813.2 534.45,813.2 576.81,813.2 619.16,813.2 661.52,808.01" fill="none" stroke="#c55a11" stroke-width="3.2" stroke-linejoin="round" stroke-linecap="round"/><circle cx="110.88" cy="802.81" r="2.9" fill="#f7b98c" stroke="#c55a11" stroke-width="1.5"/><polyline points="110.88,787.23 153.24,813.2 195.59,813.2 237.95,813.2 280.31,813.2 322.66,813.2 365.02,813.2 407.38,813.2 449.74,813.2 492.09,813.2 534.45,813.2 576.81,813.2 619.16,813.2 661.52,813.2" fill="none" stroke="#8faadc" stroke-width="3.2" stroke-linejoin="round" stroke-linecap="round"/><circle cx="110.88" cy="787.23" r="3.2" fill="#2f5597" stroke="#8faadc" stroke-width="1.0"/><circle cx="661.52" cy="813.2" r="3.2" fill="#2f5597" stroke="#8faadc" stroke-width="1.0"/><polyline points="110.88,808.01 153.24,813.2 195.59,813.2 237.95,813.2 280.31,813.2 322.66,813.2 365.02,813.2 407.38,813.2 449.74,813.2 492.09,813.2 534.45,813.2 576.81,813.2 619.16,813.2 661.52,808.01" fill="none" stroke="#2f5597" stroke-width="3.2" stroke-linejoin="round" stroke-linecap="round"/><circle cx="110.88" cy="808.01" r="2.9" fill="#9db7e6" stroke="#2f5597" stroke-width="1.5"/><circle cx="153.24" cy="813.2" r="2.9" fill="#9db7e6" stroke="#2f5597" stroke-width="1.5"/><circle cx="195.59" cy="813.2" r="2.9" fill="#9db7e6" stroke="#2f5597" stroke-width="1.5"/><circle cx="237.95" cy="813.2" r="2.9" fill="#9db7e6" stroke="#2f5597" stroke-width="1.5"/><circle cx="280.31" cy="813.2" r="2.9" fill="#9db7e6" stroke="#2f5597" stroke-width="1.5"/><circle cx="322.66" cy="813.2" r="2.9" fill="#9db7e6" stroke="#2f5597" stroke-width="1.5"/><circle cx="365.02" cy="813.2" r="2.9" fill="#9db7e6" stroke="#2f5597" stroke-width="1.5"/><circle cx="407.38" cy="813.2" r="2.9" fill="#9db7e6" stroke="#2f5597" stroke-width="1.5"/><circle cx="449.74" cy="813.2" r="2.9" fill="#9db7e6" stroke="#2f5597" stroke-width="1.5"/><circle cx="492.09" cy="813.2" r="2.9" fill="#9db7e6" stroke="#2f5597" stroke-width="1.5"/><circle cx="534.45" cy="813.2" r="2.9" fill="#9db7e6" stroke="#2f5597" stroke-width="1.5"/><circle cx="576.81" cy="813.2" r="2.9" fill="#9db7e6" stroke="#2f5597" stroke-width="1.5"/><circle cx="619.16" cy="813.2" r="2.9" fill="#9db7e6" stroke="#2f5597" stroke-width="1.5"/><circle cx="661.52" cy="808.01" r="2.9" fill="#9db7e6" stroke="#2f5597" stroke-width="1.5"/><text transform="translate(111.98,830) rotate(-60)" text-anchor="end" dy="0.36em" font-size="16" fill="#1a1a1a">-500</text><text transform="translate(154.34,830) rotate(-60)" text-anchor="end" dy="0.36em" font-size="16" fill="#1a1a1a">501-1000</text><text transform="translate(196.69,830) rotate(-60)" text-anchor="end" dy="0.36em" font-size="16" fill="#1a1a1a">1001-1500</text><text transform="translate(239.05,830) rotate(-60)" text-anchor="end" dy="0.36em" font-size="16" fill="#1a1a1a">1501-2000</text><text transform="translate(281.41,830) rotate(-60)" text-anchor="end" dy="0.36em" font-size="16" fill="#1a1a1a">2001-2500</text><text transform="translate(323.76,830) rotate(-60)" text-anchor="end" dy="0.36em" font-size="16" fill="#1a1a1a">2501-3000</text><text transform="translate(366.12,830) rotate(-60)" text-anchor="end" dy="0.36em" font-size="16" fill="#1a1a1a">3001-3500</text><text transform="translate(408.48,830) rotate(-60)" text-anchor="end" dy="0.36em" font-size="16" fill="#1a1a1a">3501-4000</text><text transform="translate(450.84,830) rotate(-60)" text-anchor="end" dy="0.36em" font-size="16" fill="#1a1a1a">4001-4500</text><text transform="translate(493.19,830) rotate(-60)" text-anchor="end" dy="0.36em" font-size="16" fill="#1a1a1a">4501-5000</text><text transform="translate(535.55,830) rotate(-60)" text-anchor="end" dy="0.36em" font-size="16" fill="#1a1a1a">5001-5500</text><text transform="translate(577.91,830) rotate(-60)" text-anchor="end" dy="0.36em" font-size="16" fill="#1a1a1a">5501-6000</text><text transform="translate(620.26,830) rotate(-60)" text-anchor="end" dy="0.36em" font-size="16" fill="#1a1a1a">6001-6500</text><text transform="translate(662.62,830) rotate(-60)" text-anchor="end" dy="0.36em" font-size="16" fill="#1a1a1a">6501-7000</text><text x="386.3" y="921" text-anchor="middle" dy="0.36em" font-size="16.2" fill="#1a1a1a">PAV size scale (kbases)</text></svg></body></html>
